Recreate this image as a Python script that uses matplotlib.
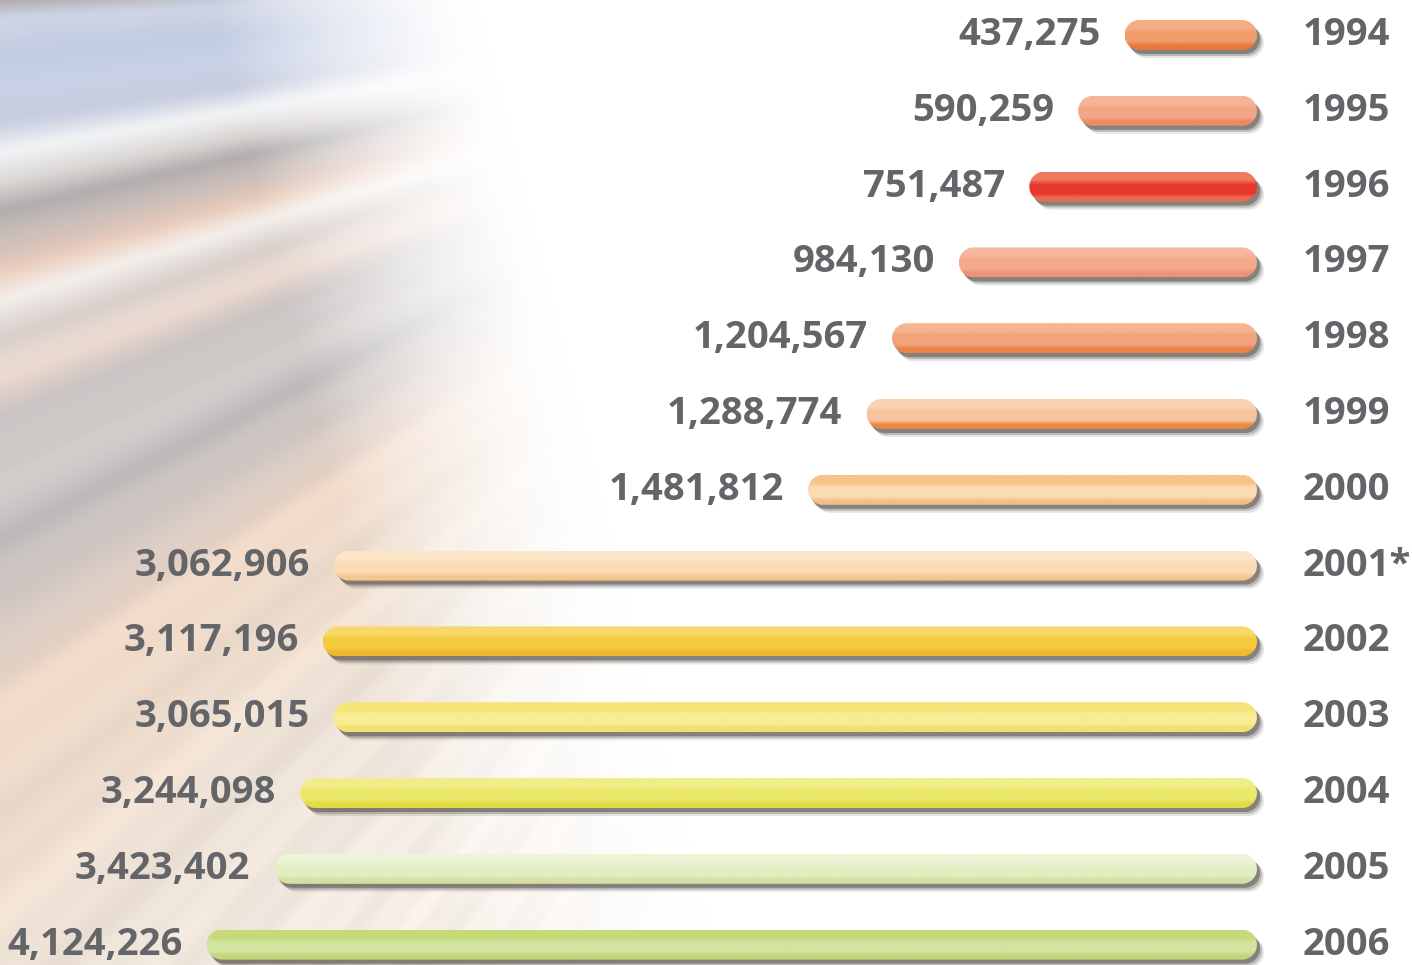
"""
Visitors per year - horizontal rounded bars growing leftwards
from a common base, values on the left, years on the right.
"""

import numpy as np
import matplotlib
matplotlib.use("Agg")
import matplotlib.pyplot as plt
from matplotlib.patches import PathPatch
from matplotlib.path import Path
from matplotlib.transforms import IdentityTransform
from matplotlib.colors import to_rgb

# ---- data -------------------------------------------------------------
YEARS = ["1994", "1995", "1996", "1997", "1998", "1999", "2000",
         "2001*", "2002", "2003", "2004", "2005", "2006"]
VISITORS = [437275, 590259, 751487, 984130, 1204567, 1288774, 1481812,
            3062906, 3117196, 3065015, 3244098, 3423402, 4124226]

# bar shading: top / middle / bottom colour of each bar
TOP_COLORS = ["#f6ad86", "#f5b497", "#f07a5e", "#f7b89d", "#f5b591", "#f8d3b3",
              "#f6c38a", "#fde6c8", "#f8d86a", "#f6e47a", "#f0ee88", "#eef5d7", "#c6da7a"]
MID_COLORS = ["#f29c6c", "#f3a686", "#e7362d", "#f5a98b", "#f2a37a", "#f6c49e",
              "#fcdcb4", "#fbdcb5", "#f5ca3e", "#f9ec94", "#ebe86a", "#e2eec1", "#d2e4a0"]
BOTTOM_COLORS = ["#e9783d", "#ec8a62", "#ee6a4f", "#ee9373", "#ea8248", "#e9893d",
                 "#f4bf86", "#f3c68e", "#eebb2c", "#f3df72", "#e1db44", "#d3e1a4", "#c2d678"]

# ---- layout -------------------------------------------------------------
W, H, DPI = 1412, 965, 100
TEXT_COLOR = "#646569"
FONT = dict(family=["Open Sans", "DejaVu Sans"], weight="bold", size=27.5, color=TEXT_COLOR)
BASE_PX = 1257          # right end of every bar
PX_PER_UNIT = 3.03e-4   # pixels per visitor (below the knee)
ROW_TOP, ROW_STEP = 35, 75.8
BAR_H = 30
XMAX = 4.4e6

# the longest bars are drawn compressed, as in the original artwork
KNEE, SOFT, SPAN = 3.0e6, 5.0e5, 3.96e5


def forward(v):
    v = np.asarray(v, dtype=float)
    return np.where(v <= KNEE, v, KNEE + SPAN * np.log1p(np.maximum(v - KNEE, 0) / SOFT))


def inverse(u):
    u = np.asarray(u, dtype=float)
    return np.where(u <= KNEE, u, KNEE + SOFT * np.expm1(np.maximum(u - KNEE, 0) / SPAN))


def draw_background(fig):
    # blurred "speed lines" photo on the left, fading to white
    h, w = 242, 353
    y, x = np.mgrid[0:h, 0:w].astype(float)
    x = x * W / (w - 1)
    y = y * H / (h - 1)
    vx, vy = 1150.0, -50.0
    y0 = vy + (y - vy) * vx / np.maximum(vx - x, 1.0)
    stops = [0, 15, 60, 120, 150, 185, 210, 235, 270, 300, 340, 380, 420,
             480, 540, 620, 700, 800, 960, 1100, 1400]
    colors = ["#b0adb0", "#c8cede", "#c5d0e6", "#cdd3e6", "#eef0f2", "#d6d2d0",
              "#aeaaab", "#c8bcb8", "#efd2c2", "#f5f0ec", "#d9cfcb", "#e8d6cc",
              "#c9c3c3", "#d7d2d0", "#bdb9b9", "#d9cdc7", "#eed8c8", "#efdccc",
              "#efe2d6", "#efe5db", "#f6efe8"]
    cols = np.array([to_rgb(c) for c in colors])
    img = np.stack([np.interp(y0, stops, cols[:, k]) for k in range(3)], axis=-1)
    streak = 1 + 0.012 * np.sin(y0 / 11.0) + 0.015 * np.sin(y0 / 29.0 + 1.3)
    img = np.clip(img * streak[..., None], 0, 1)
    fade = np.clip((470 + 0.25 * y - x) / 260, 0, 1) ** 1.3
    img = 1 - fade[..., None] * (1 - img)
    bg = fig.add_axes([0, 0, 1, 1], zorder=0)
    bg.imshow(img, extent=[0, 1, 0, 1], aspect="auto", interpolation="bicubic")
    bg.axis("off")


def bar_gradient(top, mid, bottom, n=40):
    stops = [0, 0.25, 0.42, 0.72, 0.86, 1]
    keys = np.array([to_rgb(c) for c in [top, top, mid, mid, bottom, bottom]])
    t = np.linspace(0, 1, n)
    col = np.stack([np.interp(t, stops, keys[:, k]) for k in range(3)], axis=-1)
    return col[:, None, :]


def capsule(xl, xr, yc, h):
    # pill outline in pixel coordinates
    r = h / 2
    t1 = np.linspace(np.pi / 2, 3 * np.pi / 2, 25)
    t2 = np.linspace(-np.pi / 2, np.pi / 2, 25)
    left = np.c_[xl + r + r * np.cos(t1), yc + r * np.sin(t1)]
    right = np.c_[xr - r + r * np.cos(t2), yc + r * np.sin(t2)]
    return Path(np.vstack([left, right, left[:1]]), closed=True)


def main():
    fig = plt.figure(figsize=(W / DPI, H / DPI), dpi=DPI)
    fig.patch.set_facecolor("white")
    draw_background(fig)

    n = len(VISITORS)
    width_px = float(forward(XMAX)) * PX_PER_UNIT
    left_px = BASE_PX - width_px
    top_px = ROW_TOP - ROW_STEP / 2
    height_px = n * ROW_STEP
    bottom_px = H - (top_px + height_px)
    ax = fig.add_axes([left_px / W, bottom_px / H, width_px / W, height_px / H], zorder=1)
    ax.set_xscale("function", functions=(forward, inverse))
    ax.set_xlim(XMAX, 0)
    ax.set_ylim(n - 0.5, -0.5)
    ax.axis("off")

    to_px = ax.transData.transform
    for i, v in enumerate(VISITORS):
        (xl, yc), (xr, _) = to_px([(v, i), (0, i)])
        yb = yc - BAR_H / 2
        for dx, dy, a in [(7, -8, 0.15), (5, -6, 0.3), (3, -4, 0.55)]:
            sh = PathPatch(capsule(xl + dx, xr + dx, yc + dy, BAR_H),
                           transform=IdentityTransform(), fc="#5a544f", ec="none",
                           alpha=a, clip_on=False, zorder=2)
            ax.add_artist(sh)
        body = PathPatch(capsule(xl, xr, yc, BAR_H), transform=IdentityTransform(),
                         fc="none", ec="none")
        ax.add_artist(body)
        im = ax.imshow(bar_gradient(TOP_COLORS[i], MID_COLORS[i], BOTTOM_COLORS[i]),
                       extent=[xl, xr, yb, yb + BAR_H], transform=IdentityTransform(),
                       aspect="auto", interpolation="bilinear", zorder=3)
        im.set_clip_path(body)

        ax.annotate(f"{v:,}", xy=(v, i), xytext=(-24, 0), textcoords="offset pixels",
                    ha="right", va="center", annotation_clip=False, **FONT)
        ax.annotate(YEARS[i], xy=(0, i), xytext=(46, 0), textcoords="offset pixels",
                    ha="left", va="center", annotation_clip=False, **FONT)

    fig.savefig("out.png", dpi=DPI)
    plt.close(fig)


if __name__ == "__main__":
    main()
